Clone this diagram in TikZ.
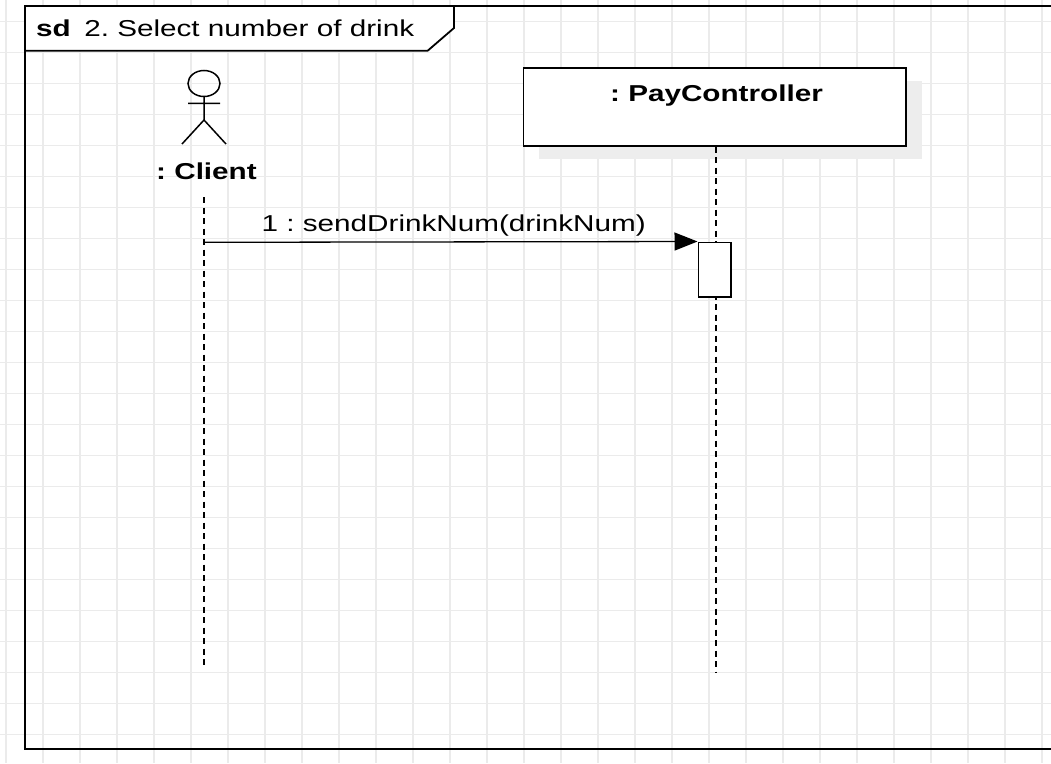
\documentclass[tikz,border=0pt]{standalone}
\usepackage{fontspec}
\setmainfont{Liberation Sans}[FakeStretch=1.29]
\usetikzlibrary{arrows.meta,shadows}

\begin{document}
\begin{tikzpicture}[x=1pt,y=-1pt,
    font=\fontsize{23}{28}\selectfont\frenchspacing,
    gridline/.style={black!8,line width=1.3pt},
    frame/.style={line width=1.8pt},
    actor/.style={line width=1.5pt},
    lifeline/.style={line width=1.7pt,dash pattern=on 6pt off 4.5pt},
    objbox/.style={draw,line width=1.7pt,fill=white,minimum width=382.7pt,minimum height=77.4pt,
        drop shadow={shadow xshift=16pt,shadow yshift=-13pt,fill=black!7,opacity=1}},
    actbox/.style={draw,line width=1.7pt,fill=white,minimum width=32.7pt,minimum height=54.7pt},
    msg/.style={line width=1.3pt,-{Triangle[length=23pt,width=18pt]}}]
    \useasboundingbox (0,0) rectangle (1051,763);
    \clip (0,0) rectangle (1051,763);
    \foreach \x in {0,...,28} \draw[gridline] (6+37*\x,0) -- (6+37*\x,763);
    \foreach \y in {0,...,23} \draw[gridline] (0,21.7+31*\y) -- (1051,21.7+31*\y);

    \draw[frame] (1060,6) -- (25,6) -- (25,749) -- (1060,749);
    \draw[frame,fill=white] (25,6) -- (454,6) -- (454,28) -- (427.7,50.7) -- (25,50.7) -- cycle;
    \node[anchor=base west,inner sep=0pt] at (36,36) (title) {\textbf{sd}\hspace{13.5pt}2. Select number of drink};

    \draw[actor] (204,83.5) ellipse [x radius=16,y radius=13];
    \draw[actor] (204,96.5) -- (204,120) (188,103.3) -- (220,103.3) (182,144) -- (204,120) -- (226,144);
    \node[anchor=base,inner sep=0pt] at (206.5,179.3) (client) {\textbf{: Client}};

    \node[objbox] at (714.7,107) (pc) {};
    \node[anchor=base,inner sep=0pt] at (716.5,101.7) (pcname) {\textbf{: PayController}};

    \coordinate (clienttop) at (204,197);
    \coordinate (clientend) at (204,668);
    \coordinate (pcend) at (716,673);
    \draw[lifeline] (clienttop) -- (clientend);
    \draw[lifeline] (pc.south -| pcend) -- (pcend);

    \node[actbox] at (714.7,269.7) (act) {};
    \coordinate (send) at (204,242.3);
    \path[msg] (send) edge node[anchor=base,yshift=10.3pt,xshift=3pt,inner sep=0pt] (msglabel) {1 : sendDrinkNum(drinkNum)} (act.north west);
\end{tikzpicture}
\end{document}
